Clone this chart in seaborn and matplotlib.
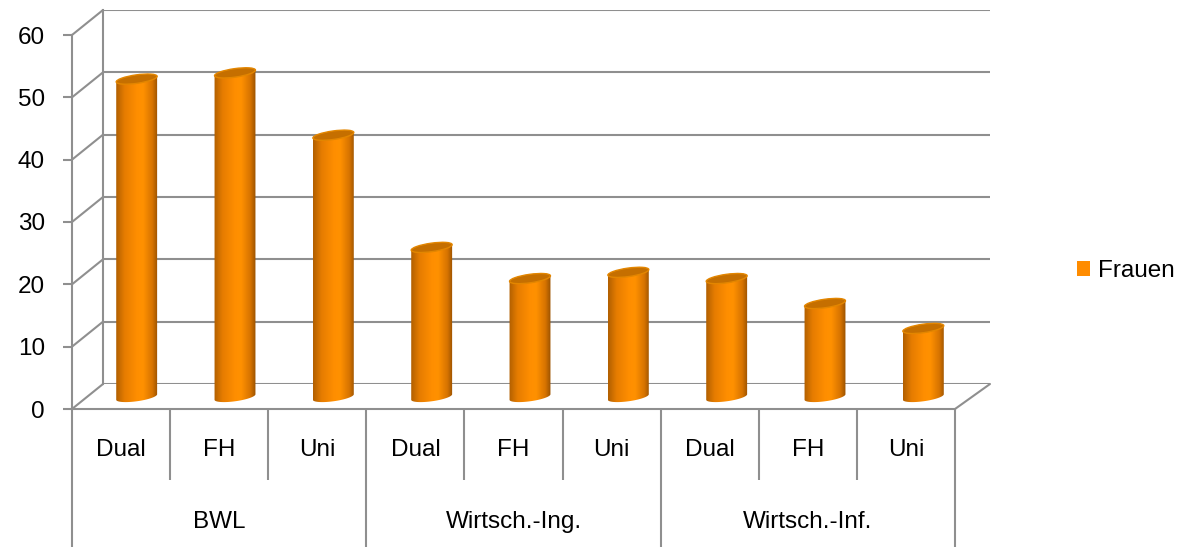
import numpy as np
import pandas as pd
import matplotlib
matplotlib.use("Agg")
import matplotlib.pyplot as plt
import matplotlib.transforms as mtrans
import seaborn as sns
from matplotlib.patches import Ellipse, Patch
from matplotlib.lines import Line2D
from matplotlib.path import Path
from matplotlib.colors import LinearSegmentedColormap

# --- data ---
groups = ["BWL", "Wirtsch.-Ing.", "Wirtsch.-Inf."]
subs = ["Dual", "FH", "Uni"]
frauen = [51, 52, 42, 24, 19, 20, 19, 15, 11]
yticks = [0, 10, 20, 30, 40, 50, 60]
series_name = "Frauen"

keys = [f"{g} {s}" for g in groups for s in subs]
df = pd.DataFrame({"key": keys, series_name: frauen})

sns.set_theme(style="white")
plt.rcParams['font.family'] = ['Liberation Sans', 'DejaVu Sans']
plt.rcParams.update({"text.color": "black", "xtick.color": "black",
                     "ytick.color": "black", "axes.labelcolor": "black"})

GRID = "#8f8f8f"
ORANGE = "#ff8c00"
FS = 17.5

W, H = 1178, 547
fig = plt.figure(figsize=(W / 100, H / 100), dpi=100)
IDT = mtrans.IdentityTransform()


def box(x0, x1, ybot, ytop):
    # pixel box -> figure fraction rect
    return [x0 / W, 1 - ybot / H, (x1 - x0) / W, (ybot - ytop) / H]


ax_back = fig.add_axes(box(103, 990, 384, 10))
ax_mid = fig.add_axes(box(87.5, 972.5, 397, 23))
ax_front = fig.add_axes(box(72, 955, 409, 35))

for ax in (ax_back, ax_mid, ax_front):
    ax.set_xlim(-0.5, len(keys) - 0.5)
    ax.set_ylim(0, 60)
    ax.patch.set_visible(False)
    for s in ax.spines.values():
        s.set_visible(False)

# back wall: gridlines + left edge
ax_back.set_yticks(yticks)
ax_back.set_xticks([])
ax_back.tick_params(left=False, labelleft=False)
ax_back.grid(axis="y", color=GRID, lw=1.5)
ax_back.spines["left"].set_visible(True)
ax_back.spines["left"].set_color(GRID)
ax_back.spines["left"].set_linewidth(1.5)

# side wall and floor edges, joining front axis to back wall
fig.canvas.draw()
for v in yticks:
    p0 = ax_front.transData.transform((-0.5, v))
    p1 = ax_back.transData.transform((-0.5, v))
    fig.add_artist(Line2D([p0[0], p1[0]], [p0[1], p1[1]], color=GRID, lw=1.5,
                          transform=IDT))
p0 = ax_front.transData.transform((len(keys) - 0.5, 0))
p1 = ax_back.transData.transform((len(keys) - 0.5, 0))
fig.add_artist(Line2D([p0[0], p1[0]], [p0[1], p1[1]], color=GRID, lw=1.5,
                      transform=IDT))

# --- cylinders ---
sns.barplot(data=df, x="key", y=series_name, order=keys, color=ORANGE,
            width=0.42, errorbar=None, ax=ax_mid, saturation=1)
ax_mid.set_xlabel("")
ax_mid.set_ylabel("")
ax_mid.set_xticks([])
ax_mid.set_yticks([])
ax_mid.set_xlim(-0.5, len(keys) - 0.5)
ax_mid.set_ylim(0, 60)

cyl_cmap = LinearSegmentedColormap.from_list("cyl", [
    (0.0, "#b05f00"), (0.2, "#e57c00"), (0.5, "#ff8e00"),
    (0.65, "#ff9100"), (0.87, "#d67300"), (1.0, "#985100")])
grad = np.linspace(0, 1, 256).reshape(1, -1)

fig.canvas.draw()
ell_px = 8.5      # minor axis of the caps, pixels
tilt = np.deg2rad(8)
ct, st = np.cos(tilt), np.sin(tilt)

for p in list(ax_mid.patches):
    x0, w, top = p.get_x(), p.get_width(), p.get_height()
    cx = x0 + w / 2
    p.set_facecolor("none")
    p.set_edgecolor("none")
    bx, by = ax_mid.transData.transform((cx, 0))
    tx, ty = ax_mid.transData.transform((cx, top))
    a = (ax_mid.transData.transform((x0 + w, 0))[0] - ax_mid.transData.transform((x0, 0))[0]) / 2
    b = ell_px / 2
    # body outline in pixels: tilted top diameter, rounded tilted bottom
    t = np.linspace(0, -np.pi, 50)
    ex, ey = a * np.cos(t), b * np.sin(t)
    arc = np.column_stack([bx + ex * ct - ey * st, by + ex * st + ey * ct])
    verts = np.vstack([[tx - a * ct, ty - a * st], [tx + a * ct, ty + a * st],
                       arc, [tx - a * ct, ty - a * st]])
    im = ax_mid.imshow(grad, cmap=cyl_cmap, aspect="auto", interpolation="bicubic",
                       extent=[x0, x0 + w, -3, top + 3], zorder=3)
    im.set_clip_box(fig.bbox)
    im.set_clip_path(Path(verts, closed=True), IDT)
    # top cap
    cap_tr = mtrans.ScaledTranslation(cx, top, ax_mid.transData)
    ax_mid.add_patch(Ellipse((0, 0), 2 * a, ell_px, angle=np.rad2deg(tilt),
                             transform=cap_tr, facecolor="#c56f00",
                             edgecolor="#e38600", lw=1.0, zorder=4, clip_on=False))

ax_mid.set_xlim(-0.5, len(keys) - 0.5)
ax_mid.set_ylim(0, 60)

# --- front axis ---
ax_front.spines["left"].set_visible(True)
ax_front.spines["bottom"].set_visible(True)
for s in ("left", "bottom"):
    ax_front.spines[s].set_color(GRID)
    ax_front.spines[s].set_linewidth(1.5)
ax_front.set_yticks(yticks)
ax_front.set_yticklabels([str(v) for v in yticks], fontsize=FS, color="black")
ax_front.tick_params(axis="y", direction="out", length=6.5, width=1.5,
                     color=GRID, pad=13, left=True)

# category separators as long ticks
n = len(keys)
group_bounds = [i * len(subs) - 0.5 for i in range(len(groups) + 1)]
sub_bounds = [b for b in np.arange(n + 1) - 0.5 if b not in group_bounds]
ax_front.set_xticks(group_bounds)
ax_front.set_xticks(sub_bounds, minor=True)
ax_front.tick_params(axis="x", which="major", direction="out", length=140 / 1.389,
                     width=1.5, color=GRID, labelbottom=False, bottom=True)
ax_front.tick_params(axis="x", which="minor", direction="out", length=71 / 1.389,
                     width=1.5, color=GRID, labelbottom=False, bottom=True)

ax_h = 409 - 35
sub_y = -(450 - 409) / ax_h
grp_y = -(522 - 409) / ax_h
xtr = ax_front.get_xaxis_transform()
for i, k in enumerate(keys):
    ax_front.text(i, sub_y, subs[i % len(subs)], transform=xtr, ha="center",
                  va="center", fontsize=FS, color="black")
for gi, g in enumerate(groups):
    ax_front.text(gi * len(subs) + 1, grp_y, g, transform=xtr, ha="center",
                  va="center", fontsize=FS, color="black")

# legend
fig.legend(handles=[Patch(facecolor=ORANGE, edgecolor="none", label=series_name)],
           loc="center left", bbox_to_anchor=(1055 / W, 1 - 271 / H), frameon=False,
           fontsize=FS, handlelength=0.55, handleheight=0.55, handletextpad=0.3,
           labelcolor="black")

fig.savefig("out.png", dpi=100)
